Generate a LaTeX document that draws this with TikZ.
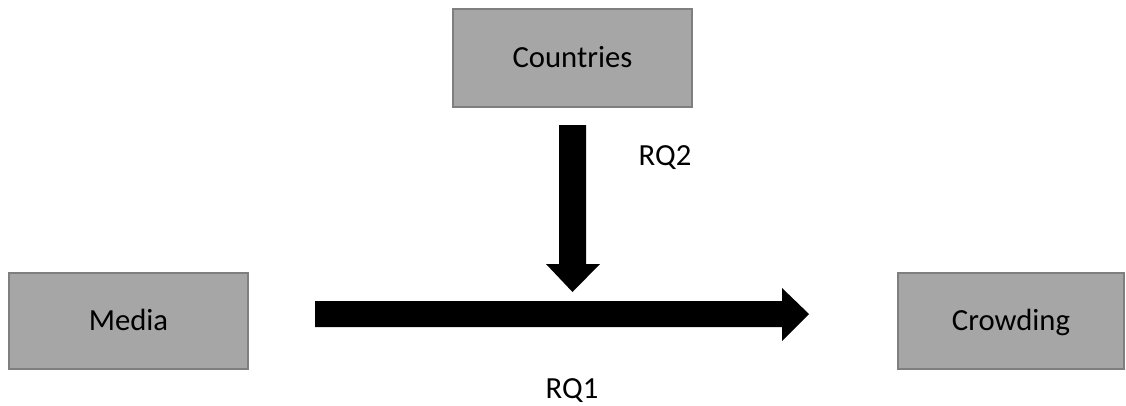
\documentclass[tikz,border=0pt]{standalone}
\usepackage{fontspec}
\setmainfont{Carlito}
\definecolor{boxfill}{HTML}{A6A6A6}
\definecolor{boxline}{HTML}{7F7F7F}
\begin{document}
\begin{tikzpicture}[x=1pt,y=-1pt,
  varbox/.style={draw=boxline, line width=1.5pt, fill=boxfill, inner sep=0pt,
    text height=19.8pt, text depth=0pt, font=\fontsize{30.7}{36}\selectfont},
  lbl/.style={anchor=base, inner sep=0pt, font=\fontsize{30.7}{36}\selectfont},
  blockarrow/.style={fill=black, draw=none}]
\useasboundingbox (0,0) rectangle (1126,405);
\node[varbox, minimum width=239pt, minimum height=98pt] (countries) at (572.5,58) {Countries};
\node[varbox, minimum width=239pt, minimum height=96pt] (media) at (128.5,321) {Media};
\node[varbox, minimum width=226pt, minimum height=96pt] (crowding) at (1011,321) {Crowding};
% down block arrow (moderation)
\fill[blockarrow] (559,125) -- (586,125) -- (586,264) -- (600,264) -- (572.5,292) -- (546,264) -- (559,264) -- cycle;
% horizontal block arrow
\fill[blockarrow] (315,301) -- (782,301) -- (782,288) -- (809,314) -- (782,341) -- (782,327) -- (315,327) -- cycle;
\node[lbl] (rq2) at (665,165) {RQ2};
\node[lbl] (rq1) at (572,398) {RQ1};
\end{tikzpicture}
\end{document}
